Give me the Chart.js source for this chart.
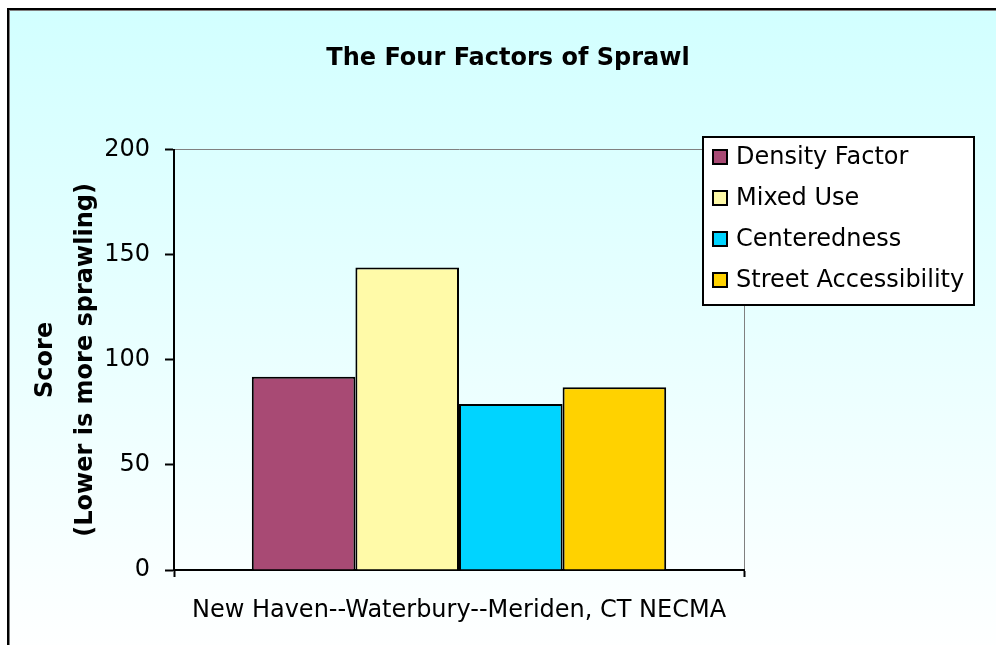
<!DOCTYPE html>
<html>
<head>
    <script src="https://cdn.jsdelivr.net/npm/chart.js@4/dist/chart.umd.min.js"></script>
    <style>
        body { margin: 0; background: #fff; }
        #frame {
            position: absolute; left: 7px; top: 8px; width: 1000px; height: 650px;
            border-top: 2px solid #000; border-left: 2px solid #000;
            box-shadow: inset 1px 1px 0 #808080;
            background: linear-gradient(#d2ffff, #ffffff);
        }
        #myChart { position: fixed; left: 0; top: 0; }
    </style>
</head>
<body>
<div id="frame"></div>
<canvas id="myChart" width="996" height="645"></canvas>

<script>
    // data
    const categories = ['New Haven--Waterbury--Meriden, CT NECMA'];
    const seriesNames = ['Density Factor', 'Mixed Use', 'Centeredness', 'Street Accessibility'];
    const densityFactor = [92];
    const mixedUse = [144];
    const centeredness = [79];
    const streetAccessibility = [87];
    const seriesColors = ['#a84a74', '#fffaa8', '#00d4ff', '#ffd200'];

    Chart.defaults.font.family = 'DejaVu Sans';
    Chart.defaults.color = '#000';

    // legend box sitting over the top right of the plot
    const boxLegend = {
        id: 'boxLegend',
        afterDraw(chart) {
            const ctx = chart.ctx;
            ctx.save();
            ctx.fillStyle = '#fff';
            ctx.fillRect(703, 137, 271, 168);
            ctx.strokeStyle = '#000';
            ctx.lineWidth = 2;
            ctx.strokeRect(703, 137, 271, 168);
            ctx.font = '24px "DejaVu Sans"';
            ctx.textBaseline = 'middle';
            chart.data.datasets.forEach((ds, i) => {
                const y = 157 + i * 41;
                ctx.fillStyle = ds.backgroundColor;
                ctx.fillRect(713, y - 7, 14, 14);
                ctx.strokeRect(713, y - 7, 14, 14);
                ctx.fillStyle = '#000';
                ctx.fillText(ds.label, 736, y + 1);
            });
            ctx.restore();
        }
    };

    const values = [densityFactor, mixedUse, centeredness, streetAccessibility];
    const datasets = seriesNames.map((name, i) => ({
        label: name,
        data: values[i],
        backgroundColor: seriesColors[i],
        borderColor: '#000',
        borderWidth: 2,
        categoryPercentage: 0.727,
        barPercentage: 1.0
    }));

    new Chart(document.getElementById('myChart'), {
        type: 'bar',
        data: { labels: categories, datasets: datasets },
        plugins: [boxLegend],
        options: {
            responsive: false,
            animation: false,
            layout: { padding: { left: 20, right: 0, top: 0, bottom: 0 } },
            plugins: {
                legend: { display: false },
                tooltip: { enabled: false },
                title: {
                    display: true,
                    text: 'The Four Factors of Sprawl',
                    color: '#000',
                    font: { size: 24, weight: 'bold' },
                    padding: { top: 44, bottom: 77 }
                }
            },
            scales: {
                x: {
                    afterFit: (scale) => { scale.height = 75; },
                    border: { color: '#000', width: 2 },
                    grid: {
                        offset: true,
                        drawOnChartArea: true,
                        color: (ctx) => ctx.type === 'tick' ? 'rgba(0,0,0,0)' : '#808080',
                        tickColor: '#000',
                        tickLength: 7,
                        tickWidth: 2
                    },
                    ticks: { font: { size: 24 }, color: '#000', padding: 19 }
                },
                y: {
                    min: 0,
                    max: 200,
                    afterFit: (scale) => { scale.width = 154; },
                    border: { color: '#000', width: 2 },
                    grid: {
                        color: (ctx) => ctx.tick && ctx.tick.value === 200 ? '#808080' : 'rgba(0,0,0,0)',
                        tickColor: '#000',
                        tickLength: 9,
                        tickWidth: 2
                    },
                    ticks: { stepSize: 50, font: { size: 24 }, color: '#000', padding: 15 },
                    title: {
                        display: true,
                        text: ['Score', '(Lower is more sprawling)'],
                        color: '#000',
                        font: { size: 24, weight: 'bold', lineHeight: 1.65 },
                        padding: { top: 6, bottom: 0 }
                    }
                },
                // empty axis that only holds the space right of the plot
                yRight: {
                    position: 'right',
                    afterFit: (scale) => { scale.width = 252; },
                    grid: { display: false },
                    border: { display: false },
                    ticks: { display: false }
                }
            }
        }
    });
</script>
</body>
</html>
